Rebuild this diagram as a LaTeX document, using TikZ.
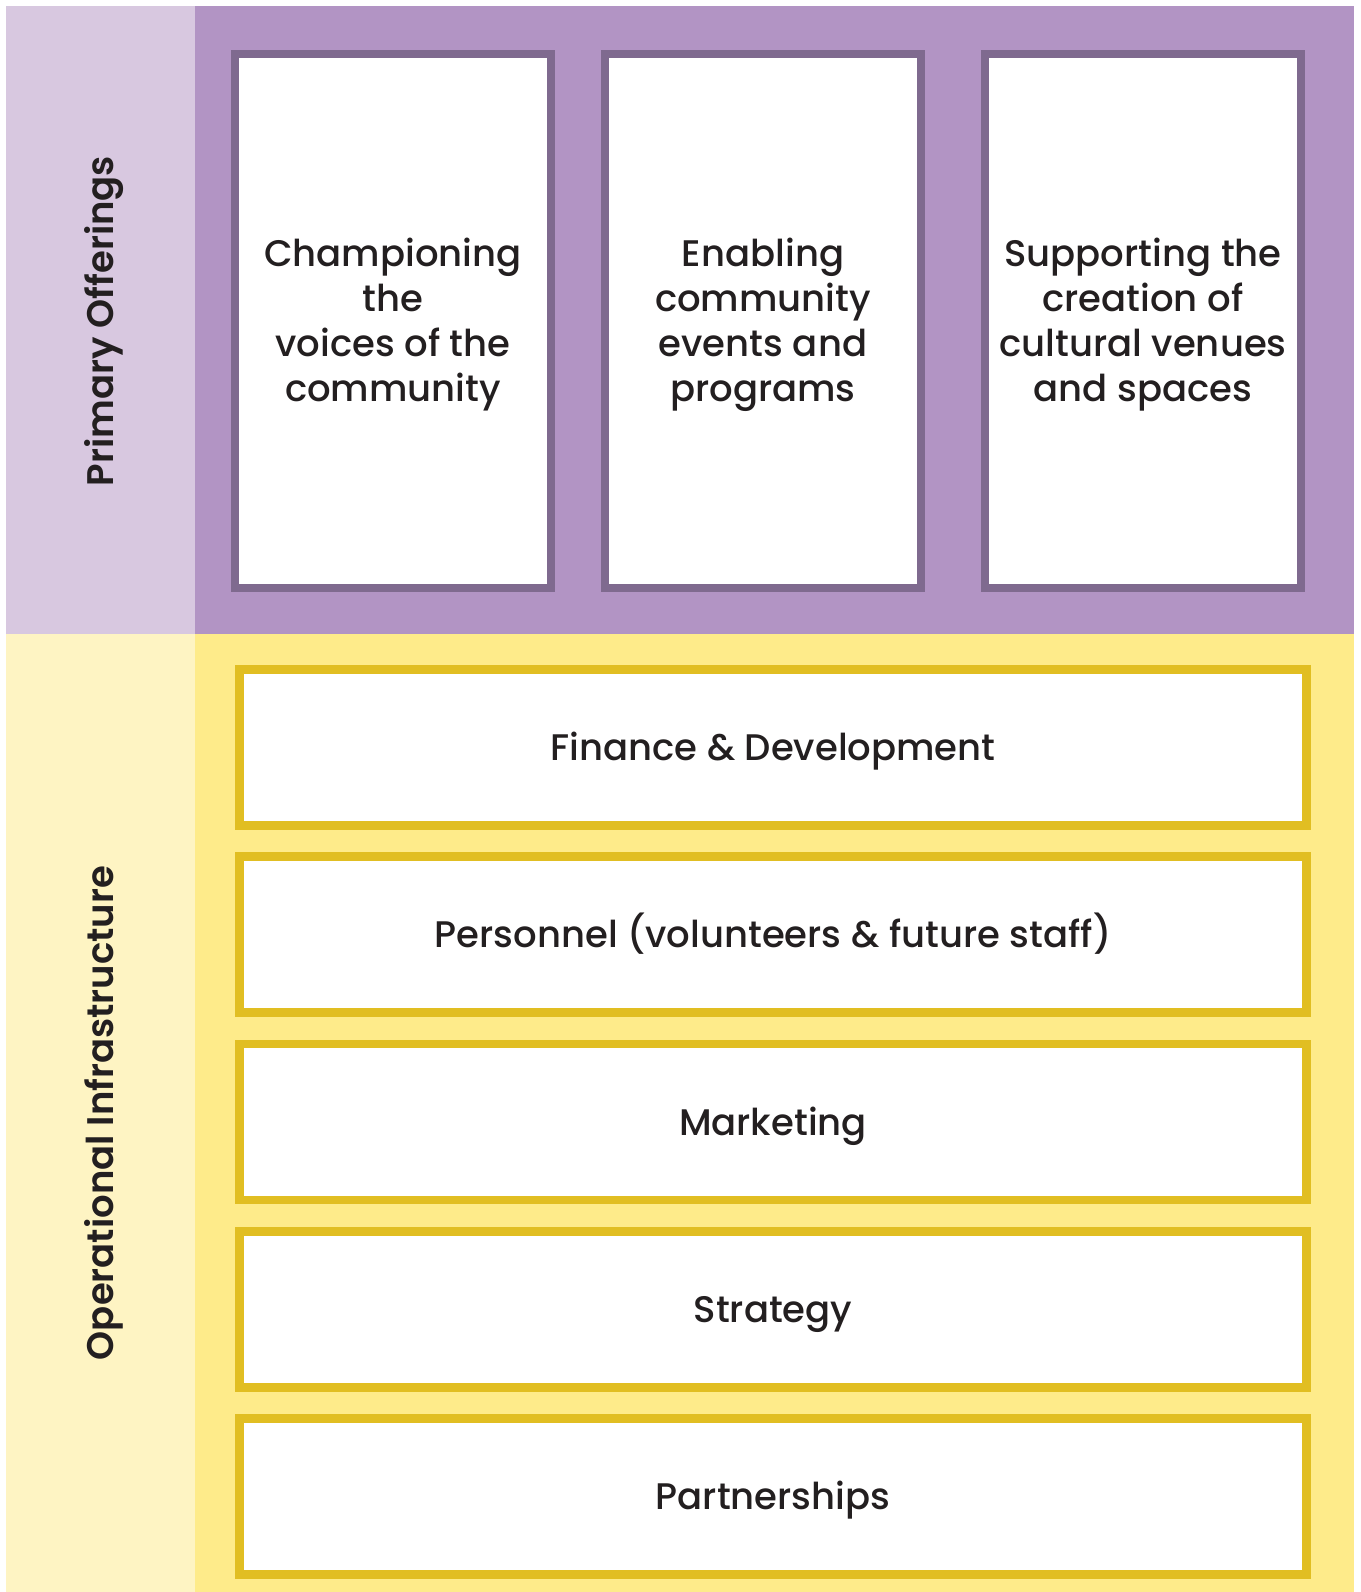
\documentclass[tikz,border=0pt]{standalone}
\usepackage{fontspec}
\setmainfont{Poppins}[UprightFont=* Medium, BoldFont=* SemiBold]
\usepackage{xcolor}
\usepackage{tikz}

\definecolor{lilacpale}{HTML}{D8C8E0}
\definecolor{lilac}{HTML}{B294C4}
\definecolor{lilacline}{HTML}{7F6A8F}
\definecolor{butterpale}{HTML}{FEF4C3}
\definecolor{butter}{HTML}{FEEB8A}
\definecolor{butterline}{HTML}{E1BE22}
\definecolor{ink}{HTML}{231F20}

\begin{document}
\begin{tikzpicture}[
  x=0.5pt, y=-0.5pt,
  offering/.style={draw=lilacline, fill=white, line width=4.3pt,
    minimum width=158pt, minimum height=267pt, inner sep=2pt,
    text height=80.8pt, text depth=0pt,
    align=center, text=ink, font=\fontsize{18.5}{22.6}\selectfont},
  layer/.style={draw=butterline, fill=white, line width=4.3pt,
    minimum width=533.5pt, minimum height=78pt, inner sep=2pt,
    text height=13pt, text depth=0pt,
    text=ink, font=\fontsize{18.5}{22.6}\selectfont},
  band/.style={rotate=90, text=ink, font=\fontsize{18.5}{22.6}\selectfont\bfseries}
]
\useasboundingbox (0,0) rectangle (1361,1592);

% background bands
\fill[lilacpale] (6,6) rectangle (195,634);
\fill[lilac] (195,6) rectangle (1354,634);
\fill[butterpale] (6,634) rectangle (195,1592);
\fill[butter] (195,634) rectangle (1354,1592);

\node[band] (offers) at (104,321) {Primary Offerings};
\node[band] (infra) at (104,1113) {Operational Infrastructure};

% primary offerings
\node[offering] (voices) at (393,321) {Championing\\the\\voices of the\\community};
\node[offering] (events) at (763,321) {Enabling\\community\\events and\\programs};
\node[offering] (venues) at (1143,321) {Supporting the\\creation of\\cultural venues\\and spaces};

% operational infrastructure
\node[layer] (finance) at (773,747.5) {Finance \& Development};
\node[layer] (personnel) at (773,934.75) {Personnel (volunteers \& future staff)};
\node[layer] (marketing) at (773,1122) {Marketing};
\node[layer] (strategy) at (773,1309.25) {Strategy};
\node[layer] (partners) at (773,1496.5) {Partnerships};
\end{tikzpicture}
\end{document}
